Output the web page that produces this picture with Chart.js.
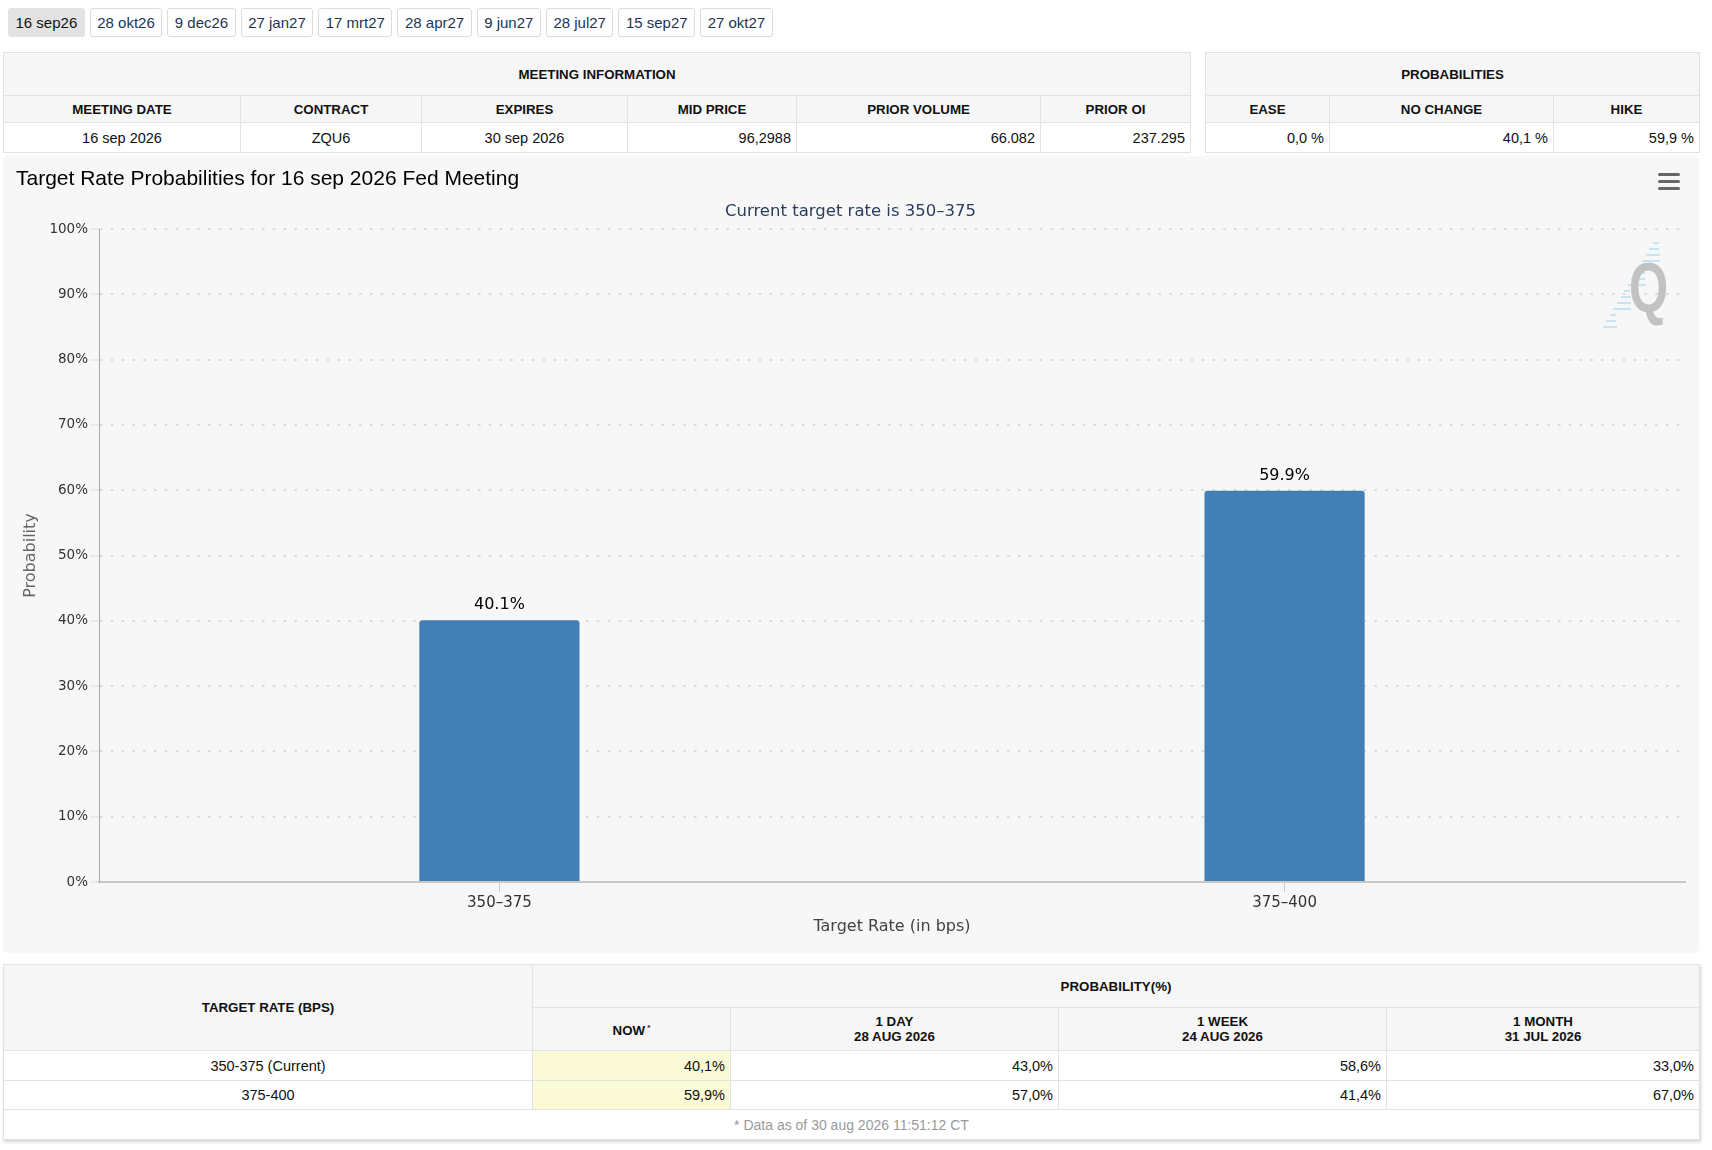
<!DOCTYPE html>
<html>
<head>
<meta charset="utf-8">
<script src="https://cdn.jsdelivr.net/npm/chart.js@4.4.1/dist/chart.umd.min.js"></script>
<style>
body { margin:0; width:1712px; height:1150px; background:#fff; font-family:"Liberation Sans", Arial, sans-serif; color:#111; position:relative; overflow:hidden; }
#tabs { position:absolute; left:8px; top:8px; display:flex; gap:5px; }
#tabs span { display:block; height:27px; line-height:27px; padding:0 6.5px; border:1px solid #dcdcdc; border-radius:3px; font-size:15px; color:#1d3553; background:#fff; }
#tabs span.on { background:#e3e3e3; color:#111; border-color:#e3e3e3; }
table { position:absolute; border-collapse:collapse; table-layout:fixed; font-size:14.5px; }
th, td { border:1px solid #e2e2e2; padding:0 5px; white-space:nowrap; overflow:hidden; }
th { background:#f6f6f6; font-size:13.3px; font-weight:bold; text-align:center; line-height:15px; }
td { background:#fff; text-align:right; }
td.c { text-align:center; }
td.now { background:#fafad6; }
td.foot { text-align:center; color:#9a9a9a; font-size:14px; }
#bottom { box-shadow:1px 2px 3px rgba(0,0,0,0.18); }
#chartBox { position:absolute; left:3px; top:156px; width:1696px; height:797px; background:#f7f7f7; border-radius:5px; }
#chartBox canvas { position:absolute; left:0; top:0; }
#menu { position:absolute; left:1655px; top:17px; width:22px; height:17px; }
#menu i { position:absolute; left:0; width:22px; height:3px; border-radius:2px; background:#666; }
#mark { position:absolute; left:1598px; top:82px; width:80px; height:96px; }
#mark b { position:absolute; left:28px; top:10px; font-family:"Liberation Sans", Arial; font-weight:bold; font-size:70px; color:#c2c2c2; transform:scaleX(0.72); transform-origin:left top; }
#mark u { position:absolute; height:2px; background:#c8e4f4; }
</style>
</head>
<body>
<div id="tabs"></div>

<table id="meet" style="left:3px; top:52px; width:1187px;">
  <colgroup><col style="width:237px"><col style="width:181px"><col style="width:206px"><col style="width:169px"><col style="width:244px"><col style="width:150px"></colgroup>
  <tr style="height:43px"><th colspan="6">MEETING INFORMATION</th></tr>
  <tr style="height:27px" id="meetHead"></tr>
  <tr style="height:30px" id="meetRow"></tr>
</table>

<table id="probs" style="left:1205px; top:52px; width:494px;">
  <colgroup><col style="width:124px"><col style="width:224px"><col style="width:146px"></colgroup>
  <tr style="height:43px"><th colspan="3">PROBABILITIES</th></tr>
  <tr style="height:27px" id="probHead"></tr>
  <tr style="height:30px" id="probRow"></tr>
</table>

<div id="chartBox">
  <canvas id="chart" width="1696" height="797"></canvas>
  <div id="menu"><i style="top:0"></i><i style="top:7px"></i><i style="top:14px"></i></div>
  <div id="mark"><b>Q</b></div>
</div>

<table id="bottom" style="left:3px; top:964px; width:1696px;">
  <colgroup><col style="width:529px"><col style="width:198px"><col style="width:328px"><col style="width:328px"><col style="width:313px"></colgroup>
  <tr style="height:43px"><th rowspan="2">TARGET RATE (BPS)</th><th colspan="4">PROBABILITY(%)</th></tr>
  <tr style="height:43px" id="histHead"></tr>
  <tbody id="histBody"></tbody>
  <tr style="height:30px"><td class="foot" colspan="5">* Data as of 30 aug 2026 11:51:12 CT</td></tr>
</table>

<script>
// meeting tabs
const meetingTabs = ['16 sep26', '28 okt26', '9 dec26', '27 jan27', '17 mrt27', '28 apr27', '9 jun27', '28 jul27', '15 sep27', '27 okt27'];

// top tables
const meetHeaders = ['MEETING DATE', 'CONTRACT', 'EXPIRES', 'MID PRICE', 'PRIOR VOLUME', 'PRIOR OI'];
const meetValues = ['16 sep 2026', 'ZQU6', '30 sep 2026', '96,2988', '66.082', '237.295'];
const probHeaders = ['EASE', 'NO CHANGE', 'HIKE'];
const probValues = ['0,0 %', '40,1 %', '59,9 %'];

// chart data
const rateBuckets = ['350–375', '375–400'];
const probNow = [40.1, 59.9];
const yMin = 0, yMax = 100, yStep = 10;

// history table
const histHeaders = ['NOW', '1 DAY<br>28 AUG 2026', '1 WEEK<br>24 AUG 2026', '1 MONTH<br>31 JUL 2026'];
const histRates = ['350-375 (Current)', '375-400'];
const histNow = ['40,1%', '59,9%'];
const histDay = ['43,0%', '57,0%'];
const histWeek = ['58,6%', '41,4%'];
const histMonth = ['33,0%', '67,0%'];

document.getElementById('tabs').innerHTML = meetingTabs.map((t, i) =>
    '<span' + (i == 0 ? ' class="on"' : '') + '>' + t + '</span>').join('');

document.getElementById('meetHead').innerHTML = meetHeaders.map(h => '<th>' + h + '</th>').join('');
document.getElementById('meetRow').innerHTML = meetValues.map((v, i) =>
    '<td' + (i < 3 ? ' class="c"' : '') + '>' + v + '</td>').join('');
document.getElementById('probHead').innerHTML = probHeaders.map(h => '<th>' + h + '</th>').join('');
document.getElementById('probRow').innerHTML = probValues.map(v => '<td>' + v + '</td>').join('');

document.getElementById('histHead').innerHTML = histHeaders.map((h, i) =>
    '<th>' + h + (i == 0 ? '<sup style="font-size:8px"> *</sup>' : '') + '</th>').join('');
var rows = '';
var rowH = [30, 29];
for (var i = 0; i < histRates.length; i++) {
    rows += '<tr style="height:' + rowH[i] + 'px"><td class="c">' + histRates[i] + '</td><td class="now">' + histNow[i] +
        '</td><td>' + histDay[i] + '</td><td>' + histWeek[i] + '</td><td>' + histMonth[i] + '</td></tr>';
}
document.getElementById('histBody').innerHTML = rows;

// watermark streaks
var mark = document.getElementById('mark');
for (var k = 0; k < 15; k++) {
    var u = document.createElement('u');
    u.style.top = (4 + k * 6) + 'px';
    u.style.left = (52 - k * 3.6) + 'px';
    u.style.width = (6 + (k % 4) * 4) + 'px';
    mark.insertBefore(u, mark.firstChild);
}

const barLabels = {
    id: 'barLabels',
    afterDatasetsDraw(chart) {
        var ctx = chart.ctx;
        var meta = chart.getDatasetMeta(0);
        ctx.save();
        ctx.font = '16px "DejaVu Sans"';
        ctx.fillStyle = '#000';
        ctx.textAlign = 'center';
        ctx.textBaseline = 'bottom';
        meta.data.forEach((bar, i) => {
            ctx.fillText(probNow[i].toFixed(1) + '%', bar.x, bar.y - 7);
        });
        ctx.restore();
    }
};

const chartFont = '"DejaVu Sans", Verdana, sans-serif';

// bars sit on an index axis with a little padding either side, like the original
new Chart(document.getElementById('chart').getContext('2d'), {
    type: 'bar',
    data: {
        datasets: [{
            data: probNow.map((v, i) => ({ x: i, y: v })),
            backgroundColor: '#427fb4',
            borderRadius: { topLeft: 3, topRight: 3 },
            borderSkipped: 'bottom',
            barPercentage: 0.204,
            categoryPercentage: 1
        }]
    },
    options: {
        responsive: false,
        animation: false,
        layout: { padding: { left: 13, right: 14, top: 0, bottom: 10 } },
        plugins: {
            legend: { display: false },
            tooltip: { enabled: false },
            title: {
                display: true,
                text: 'Target Rate Probabilities for 16 sep 2026 Fed Meeting',
                align: 'start',
                color: '#000',
                font: { family: '"Liberation Sans", Arial, sans-serif', size: 21, weight: 'normal' },
                padding: { top: 11, bottom: 0 }
            },
            subtitle: {
                display: true,
                text: 'Current target rate is 350–375',
                color: '#2a3d5c',
                font: { family: chartFont, size: 16.5 },
                padding: { top: 10, bottom: 7 }
            }
        },
        scales: {
            x: {
                type: 'linear',
                offset: false,
                min: -0.51,
                max: rateBuckets.length - 0.49,
                afterBuildTicks(s) { s.ticks = s.ticks.filter(t => Number.isInteger(t.value)); },
                grid: { display: true, offset: false, drawOnChartArea: false, tickLength: 10, color: '#cccccc', lineWidth: 1 },
                border: { color: '#c8c8c8', width: 2 },
                ticks: { stepSize: 1, callback: v => rateBuckets[v], color: '#333', font: { family: chartFont, size: 15 }, padding: 2 },
                title: { display: true, text: 'Target Rate (in bps)', color: '#444', font: { family: chartFont, size: 16 }, padding: { top: 0, bottom: 7 } },
                afterFit(s) { s.height = 61; }
            },
            y: {
                min: yMin,
                max: yMax,
                ticks: { stepSize: yStep, callback: v => v + '%', color: '#333', font: { family: chartFont, size: 13.5 }, padding: 2 },
                grid: { color: '#d9d9d9', lineWidth: 2, drawTicks: true, tickLength: 9, tickColor: '#dddddd', tickWidth: 1, tickBorderDash: [] },
                border: { color: '#a8a8a8', width: 1, dash: [2.5, 8.3] },
                title: { display: true, text: 'Probability', color: '#666', font: { family: chartFont, size: 16 }, padding: { top: 5, bottom: 0 } },
                afterFit(s) { s.width = 83; }
            }
        }
    },
    plugins: [barLabels]
});
</script>
</body>
</html>
